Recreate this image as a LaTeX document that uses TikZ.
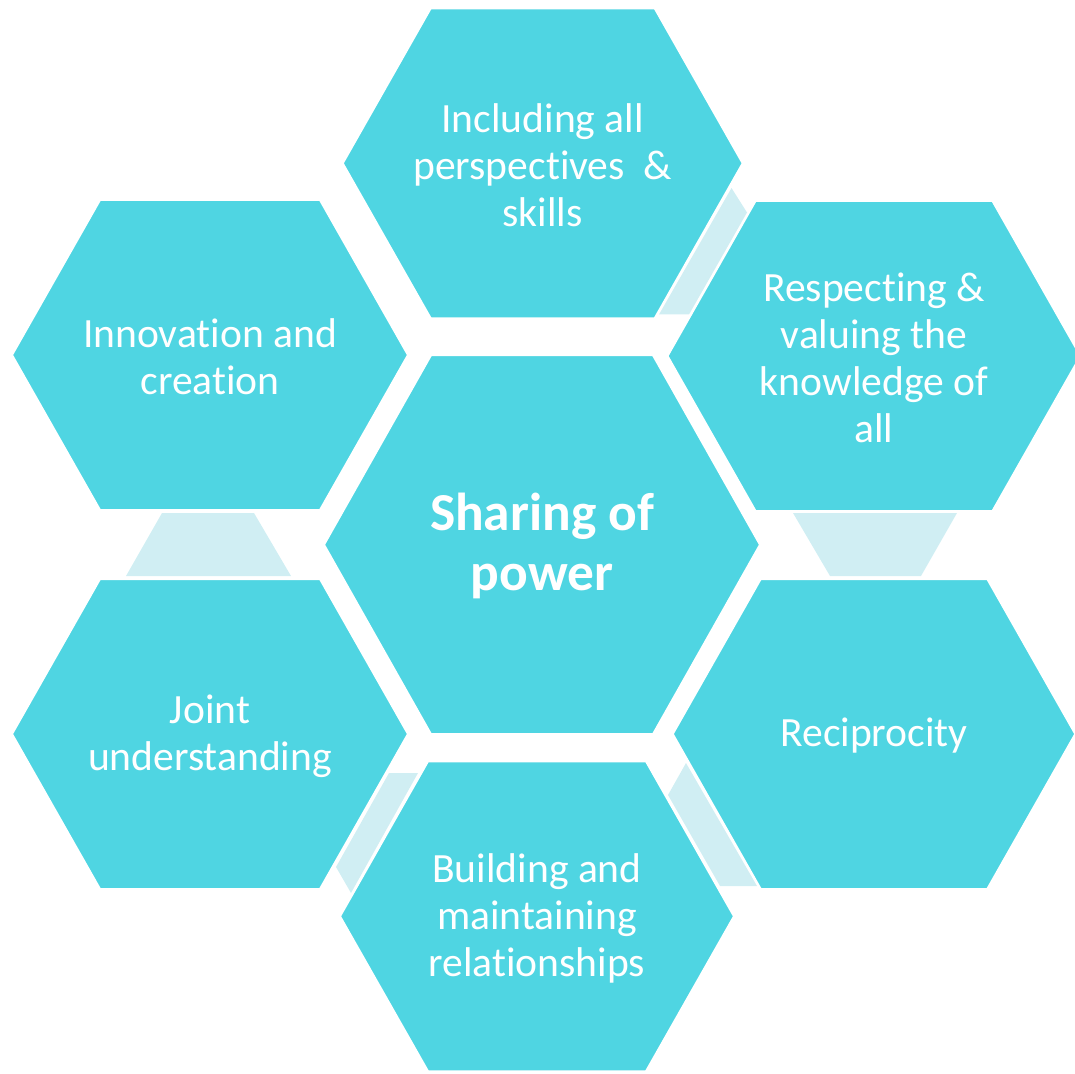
\documentclass[tikz,border=0pt]{standalone}
\usepackage{fontspec}
\setmainfont{Carlito}[Ligatures=NoCommon]
\usepackage{tikz}
\definecolor{hexcyan}{RGB}{79,213,226}
\definecolor{hexlight}{RGB}{208,238,243}
% outer cell: centre x, centre y, half width of the flat top
\newcommand{\hexcell}[3]{\draw[cell] ({#1-#3-88},#2) -- ({#1-#3},{#2-155}) -- ({#1+#3},{#2-155}) -- ({#1+#3+88},#2) -- ({#1+#3},{#2+155}) -- ({#1-#3},{#2+155}) -- cycle;}

\begin{document}
\begin{tikzpicture}[x=0.5pt, y=-0.5pt,
  cell/.style={fill=hexcyan, draw=white, line width=1pt},
  link/.style={fill=hexlight},
  lbl/.style={text=white, align=center, yshift=-1pt, font=\fontsize{20.8}{23.5}\selectfont},
  core/.style={text=white, align=center, yshift=-0.5pt, font=\fontsize{26.7}{30}\selectfont\bfseries}]
\useasboundingbox (0,0) rectangle (1075,1074);

% light links between neighbours
\fill[link] (731.5,188) -- (747,212.5) -- (689,314.5) -- (659,314.5) -- cycle;
\fill[link] (793,513) -- (957,513) -- (921,576) -- (830,576) -- cycle;
\fill[link] (686,763) -- (757,886) -- (720,886) -- (668,795) -- cycle;
\fill[link] (389,773) -- (418,773) -- (351,893) -- (336,867) -- cycle;
\fill[link] (162,513) -- (254,513) -- (291,576) -- (126,576) -- cycle;

% cells
\hexcell{542.7}{163.3}{112}
\hexcell{210}{355}{110}
\hexcell{874}{356}{118.5}
\hexcell{874}{734}{113.3}
\hexcell{210}{734}{110}
\hexcell{537}{916.3}{109}
\draw[cell] (324,544.7) -- (431,355.2) -- (653,355.2) -- (760,544.7) -- (653,734.2) -- (431,734.2) -- cycle;

\node[core] (share) at (542,544.7) {Sharing of\\power};
\node[lbl] (incl) at (542.7,163.3) {Including all\\perspectives\ \ \&\\skills};
\node[lbl] (innov) at (210,355) {Innovation and\\creation};
\node[lbl] (resp) at (874,356) {Respecting \&\\valuing the\\knowledge of\\all};
\node[lbl] (recip) at (874,734) {Reciprocity};
\node[lbl] (joint) at (210,734) {Joint\\understanding};
\node[lbl] (build) at (537,916.3) {Building and\\maintaining\\relationships};
\end{tikzpicture}
\end{document}
